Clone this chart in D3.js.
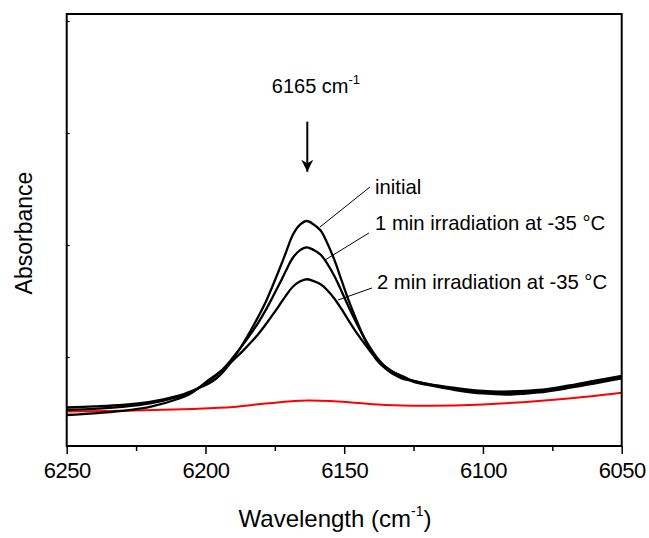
<!DOCTYPE html>
<html><head><meta charset="utf-8">
<script src="https://cdn.jsdelivr.net/npm/d3@7"></script>
<style>
html,body{margin:0;padding:0;background:#fff;}
svg{display:block;font-family:Arial,"Liberation Sans",sans-serif;}
</style></head>
<body>
<svg id="chart" width="649" height="538"></svg>
<script>
// ---- data ----
const wavenumbers = [6250,6240,6230,6220,6210,6205,6198.5,6196,6193.5,6191,6188.5,6186,6183.5,6181,6178.5,6176,6173.5,6171,6168.5,6166,6163.5,6161,6158.5,6156,6153.5,6151,6148.5,6146,6143.5,6141,6138.5,6136,6133.5,6131,6128.5,6125,6120,6110,6100,6090,6080,6070,6060,6050];
const initialAbs = [0.0549,0.0558,0.0571,0.0598,0.0652,0.0696,0.0768,0.0810,0.0871,0.0948,0.1040,0.1138,0.1245,0.1358,0.1479,0.1623,0.1774,0.1933,0.2091,0.2179,0.2214,0.2183,0.2129,0.2011,0.1864,0.1688,0.1512,0.1355,0.1208,0.1083,0.0980,0.0916,0.0866,0.0830,0.0802,0.0786,0.0759,0.0723,0.0696,0.0692,0.0705,0.0741,0.0786,0.0830];
const min1Abs = [0.0527,0.0536,0.0554,0.0585,0.0643,0.0688,0.0790,0.0838,0.0897,0.0967,0.1045,0.1126,0.1213,0.1305,0.1409,0.1524,0.1644,0.1770,0.1886,0.1952,0.1979,0.1955,0.1914,0.1830,0.1721,0.1590,0.1452,0.1323,0.1204,0.1096,0.1004,0.0932,0.0884,0.0846,0.0819,0.0786,0.0759,0.0714,0.0688,0.0679,0.0696,0.0732,0.0777,0.0821];
const min2Abs = [0.0482,0.0496,0.0518,0.0554,0.0625,0.0679,0.0801,0.0844,0.0893,0.0947,0.1006,0.1068,0.1133,0.1203,0.1283,0.1369,0.1457,0.1548,0.1627,0.1673,0.1694,0.1677,0.1649,0.1594,0.1520,0.1429,0.1330,0.1233,0.1146,0.1063,0.0990,0.0929,0.0882,0.0849,0.0823,0.0777,0.0750,0.0705,0.0674,0.0665,0.0683,0.0719,0.0763,0.0808];
const redWavenumbers = [6250,6225,6205,6190,6180,6170,6163,6155,6145,6135,6120,6100,6080,6060,6050];
const redAbs = [0.0512,0.0521,0.0536,0.0554,0.0580,0.0603,0.0612,0.0607,0.0589,0.0571,0.0565,0.0576,0.0607,0.0652,0.0681];
const xTicks = [6250,6200,6150,6100,6050];
const xMinorTicks = [6225,6175,6125,6075];
const yTicks = [0.1,0.2,0.3,0.4];
const seriesLabels = ["initial","1 min irradiation at -35 °C","2 min irradiation at -35 °C"];
// leader lines: [fromW, fromA, toW, toA], label anchor [w, a]
const leaders = [[6158.7,0.2161,6140.7,0.2518],[6156.9,0.1866,6141.1,0.2107],[6152.2,0.1509,6140.0,0.1616]];
const labelPos = [[6138.9,0.2455],[6138.9,0.2134],[6138.2,0.1603]];
const peakLabel = {w:6176.1, a:0.3357, text:"6165 cm", sup:"-1"};
const arrow = {w:6163.3, top:0.3101, tip:0.2654};

// ---- layout ----
const svg = d3.select("#chart");
const L = 66.7, R = 621.7, T = 14, B = 446;
const x = d3.scaleLinear().domain([6250,6050]).range([L,R]);
const y = d3.scaleLinear().domain([0.0205,0.40625]).range([B,T]);

// curves
const line = d3.line().x(d=>x(d[0])).y(d=>y(d[1])).curve(d3.curveCatmullRom.alpha(0.5));
const blackSeries = [initialAbs,min1Abs,min2Abs];
const g = svg.append("g");
g.append("path").datum(redWavenumbers.map((w,i)=>[w,redAbs[i]]))
  .attr("d",line).attr("fill","none").attr("stroke","#ff0000").attr("stroke-width",2);
blackSeries.forEach(s=>{
  g.append("path").datum(wavenumbers.map((w,i)=>[w,s[i]]))
    .attr("d",line).attr("fill","none").attr("stroke","#000").attr("stroke-width",2.3)
    .attr("stroke-linejoin","round");
});

// x axis
const xAxis = d3.axisBottom(x).tickValues(xTicks).tickSize(8).tickFormat(d3.format("d"));
const xa = svg.append("g").attr("transform",`translate(0,${B})`).call(xAxis);
xa.select(".domain").remove();
xa.selectAll(".tick line").attr("stroke","#000").attr("stroke-width",1.5);
xa.selectAll(".tick text").attr("font-size",22).attr("fill","#000").attr("dy",0).attr("y",32)
  .attr("font-family","Arial,'Liberation Sans',sans-serif").attr("letter-spacing","-0.5px");
const xm = svg.append("g").attr("transform",`translate(0,${B})`)
  .call(d3.axisBottom(x).tickValues(xMinorTicks).tickSize(5).tickFormat(""));
xm.select(".domain").remove();
xm.selectAll(".tick line").attr("stroke","#000").attr("stroke-width",1.5);

// y axis (inward small ticks, no labels)
const ya = svg.append("g").attr("transform",`translate(${L},0)`)
  .call(d3.axisRight(y).tickValues(yTicks).tickSize(3).tickFormat(""));
ya.select(".domain").remove();
ya.selectAll(".tick line").attr("stroke","#000").attr("stroke-width",1.2);

// frame
svg.append("rect").attr("x",L).attr("y",T).attr("width",R-L).attr("height",B-T)
  .attr("fill","none").attr("stroke","#000").attr("stroke-width",2);

// axis titles
const xt = svg.append("text").attr("x",335).attr("y",527).attr("text-anchor","middle")
  .attr("font-size",24).attr("fill","#000");
xt.append("tspan").text("Wavelength (cm");
xt.append("tspan").attr("font-size",14).attr("dy",-11).text("-1");
xt.append("tspan").attr("dy",11).text(")");
svg.append("text").attr("transform","translate(32,233) rotate(-90)").attr("text-anchor","middle")
  .attr("font-size",23).attr("fill","#000").text("Absorbance");

// peak annotation
const pt = svg.append("text").attr("x",x(peakLabel.w)).attr("y",y(peakLabel.a))
  .attr("font-size",20).attr("fill","#000");
pt.append("tspan").text(peakLabel.text);
pt.append("tspan").attr("font-size",13).attr("dy",-9).text(peakLabel.sup);

svg.append("defs").append("marker").attr("id","ah").attr("viewBox","0 0 10 10")
  .attr("refX",10).attr("refY",5).attr("markerWidth",6).attr("markerHeight",6)
  .attr("markerUnits","strokeWidth").attr("orient","auto")
  .append("path").attr("d","M0,0 L10,5 L0,10 L3,5 Z").attr("fill","#000");
svg.append("line").attr("x1",x(arrow.w)).attr("x2",x(arrow.w))
  .attr("y1",y(arrow.top)).attr("y2",y(arrow.tip))
  .attr("stroke","#000").attr("stroke-width",2).attr("marker-end","url(#ah)");

// leaders and labels
leaders.forEach(l=>{
  svg.append("line").attr("x1",x(l[0])).attr("y1",y(l[1])).attr("x2",x(l[2])).attr("y2",y(l[3]))
    .attr("stroke","#000").attr("stroke-width",1);
});
seriesLabels.forEach((t,i)=>{
  svg.append("text").attr("x",x(labelPos[i][0])).attr("y",y(labelPos[i][1]))
    .attr("font-size",20.3).attr("fill","#000").text(t);
});
</script>
</body></html>
